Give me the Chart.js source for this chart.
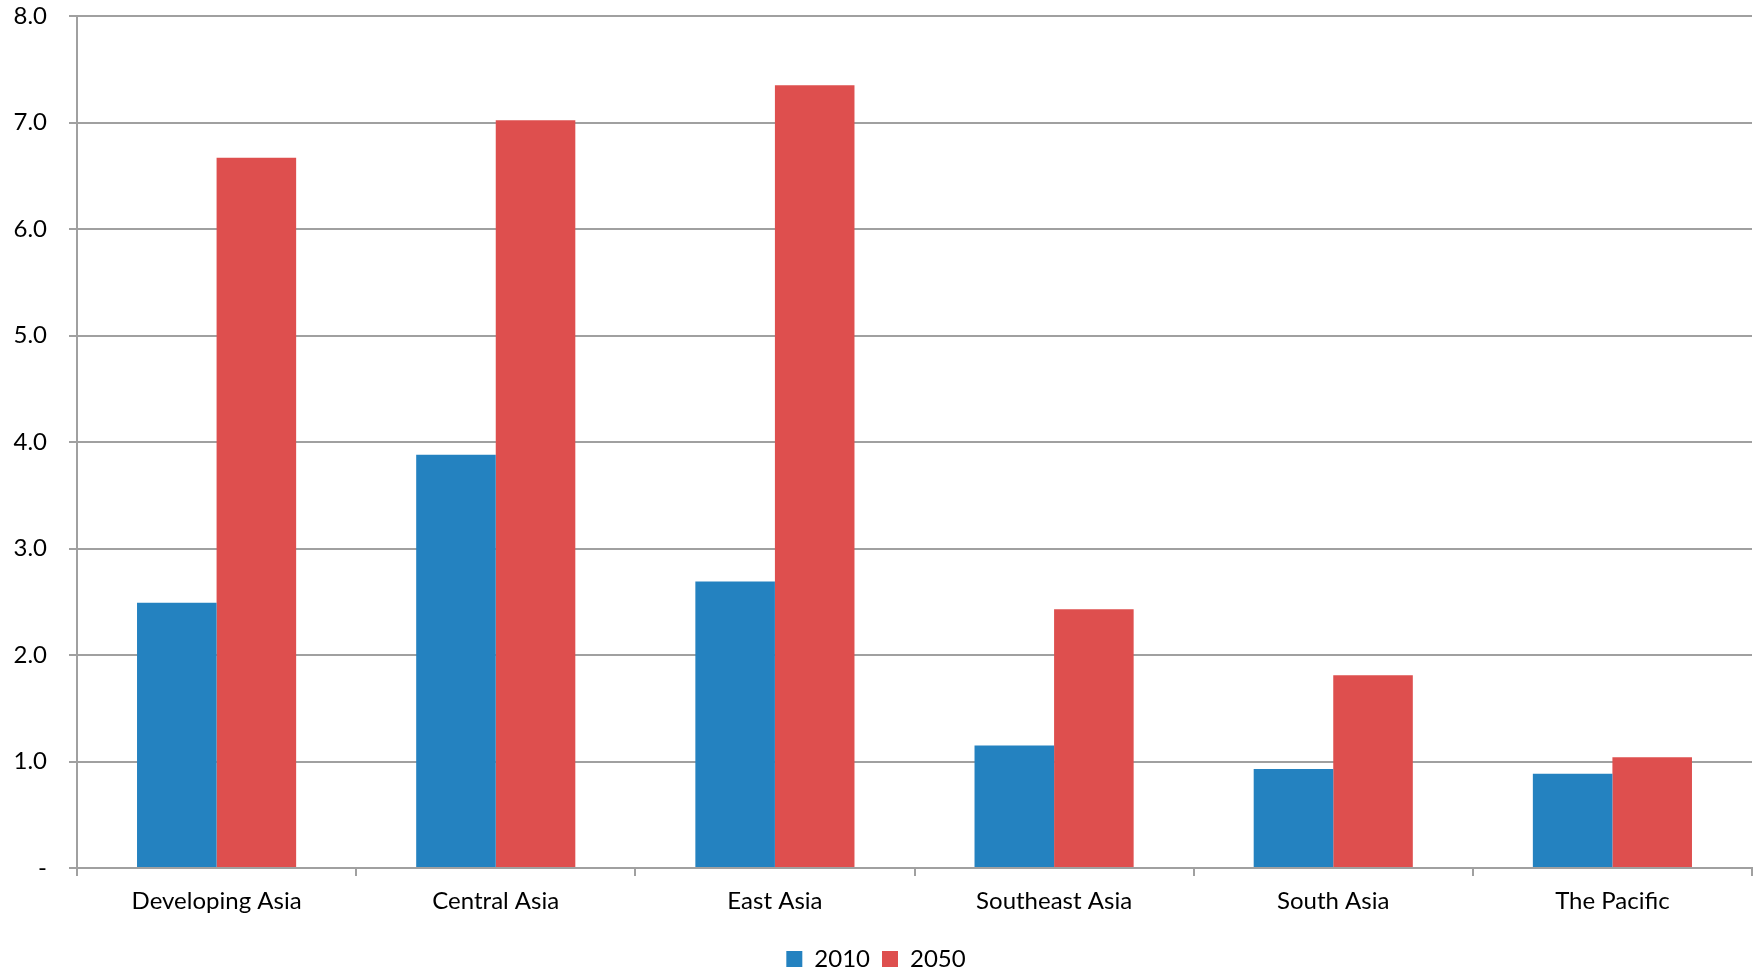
<!DOCTYPE html>
<html>
<head>
<meta charset="utf-8">
<script src="https://cdn.jsdelivr.net/npm/chart.js@4.4.1/dist/chart.umd.min.js"></script>
<style>
  html, body { margin: 0; padding: 0; background: #fff; }
  #wrap { width: 1758px; height: 970px; }
</style>
</head>
<body>
<div id="wrap"><canvas id="barChart" width="1758" height="970"></canvas></div>
<script>
// chart data
const categories = ['Developing Asia', 'Central Asia', 'East Asia', 'Southeast Asia', 'South Asia', 'The Pacific'];
const values2010 = [2.49, 3.88, 2.69, 1.15, 0.93, 0.885];
const values2050 = [6.67, 7.02, 7.35, 2.43, 1.81, 1.04];
const seriesLabels = ['2010', '2050'];

const BLUE = '#2482c0';
const RED = '#de4f4e';
const GRID = '#a0a0a0';
const FONT = 'Lato, "Open Sans", sans-serif';

document.addEventListener('DOMContentLoaded', () => {
  const ctx = document.getElementById('barChart');
  new Chart(ctx, {
    type: 'bar',
    data: {
      labels: categories,
      datasets: [
        { label: seriesLabels[0], data: values2010, backgroundColor: BLUE, borderWidth: 0 },
        { label: seriesLabels[1], data: values2050, backgroundColor: RED, borderWidth: 0 }
      ]
    },
    options: {
      responsive: false,
      animation: false,
      datasets: { bar: { categoryPercentage: 0.57, barPercentage: 1.0 } },
      layout: { padding: { top: 16, right: 6, left: 0, bottom: -11 } },
      plugins: {
        tooltip: { enabled: false },
        legend: {
          position: 'bottom',
          labels: {
            color: '#000',
            font: { family: FONT, size: 24 },
            boxWidth: 16,
            boxHeight: 16,
            padding: 12
          }
        }
      },
      scales: {
        x: {
          afterFit: (scale) => { scale.height = 67; },
          grid: { display: true, drawOnChartArea: false, drawTicks: true, tickLength: 8, color: GRID, lineWidth: 2, offset: true },
          border: { display: true, color: GRID, width: 2 },
          ticks: { color: '#000', font: { family: FONT, size: 24 }, padding: 11, maxRotation: 0 }
        },
        y: {
          min: 0,
          max: 8,
          afterFit: (scale) => {
            scale.width = 77;
            scale.paddingTop = 0;
            scale.paddingBottom = 0;
          },
          grid: { color: GRID, lineWidth: 2, drawTicks: true, tickLength: 8 },
          border: { display: true, color: GRID, width: 2 },
          ticks: {
            stepSize: 1,
            color: '#000',
            font: { family: FONT, size: 24 },
            padding: 22,
            callback: (v) => v === 0 ? '-' : v.toFixed(1)
          }
        }
      }
    }
  });
});
</script>
</body>
</html>
